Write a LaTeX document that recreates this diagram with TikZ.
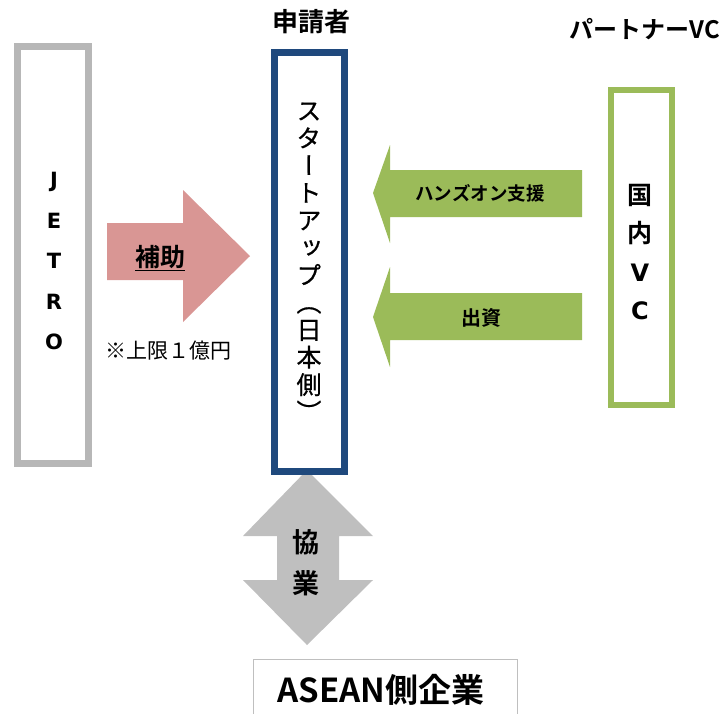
\documentclass[tikz,border=0pt]{standalone}
\usepackage{fontspec}
\setmainfont{Noto Sans CJK JP}
\newfontfamily\jp{Noto Sans CJK JP}
\newfontfamily\jpb{Noto Sans CJK JP Bold}
\newfontfamily\jpv[RawFeature={+vert},FakeBold=0.6]{Noto Sans CJK JP}
\newfontfamily\dv{DejaVu Sans}
\definecolor{jgray}{HTML}{B7B7B7}
\definecolor{sblue}{HTML}{1F497D}
\definecolor{vgreen}{HTML}{9BBB59}
\definecolor{apink}{HTML}{D99694}
\definecolor{agray}{HTML}{BFBFBF}
\tikzset{
  box/.style={line width=7pt},
  lbl/.style={inner sep=0pt, text=black},
}
\begin{document}
\begin{tikzpicture}[x=1pt,y=-1pt]
\useasboundingbox (0,0) rectangle (725,713);
% headers
\node[lbl, font=\jpb\fontsize{26}{30}\selectfont] (hdr1) at (311,22) {申請者};
\node[lbl, font=\jpb\fontsize{24}{28}\selectfont] (hdr2) at (645,29) {パートナーVC};
% gray double arrow (behind startup box)
\fill[agray] (307,470) -- (373,536) -- (339,536) -- (339,580) -- (373,580)
  -- (307,645) -- (243,580) -- (277,580) -- (277,536) -- (243,536) -- cycle;
\node[lbl, font=\jpb\fontsize{27}{30}\selectfont] (kyo) at (306,542) {協};
\node[lbl, font=\jpb\fontsize{27}{30}\selectfont] (gyo) at (306,583) {業};
% boxes
\draw[box, jgray] (17.5,46.5) rectangle (88.5,463.5);
\node[lbl, font=\dv\bfseries\fontsize{21}{40.5}\selectfont, align=center] (jetro) at (54,261) {J\\E\\T\\R\\O};
\draw[box, sblue] (274.5,52.5) rectangle (344.5,471.5);
\node[lbl, font=\jpv\fontsize{25}{27.4}\selectfont, align=center] (start) at (309,262)
  {ス\\タ\\ー\\ト\\ア\\ッ\\プ\\（\\日\\本\\側\\）};
\draw[line width=6pt, vgreen] (611,90) rectangle (672,405);
\node[lbl, font=\jpb\fontsize{25}{38.5}\selectfont, align=center] (vc) at (640,252)
  {国\\内\\{\dv\bfseries\fontsize{24}{38.5}\selectfont V}\\{\dv\bfseries\fontsize{24}{38.5}\selectfont C}};
% pink arrow
\fill[apink] (107,223) -- (183,223) -- (183,190) -- (250,256) -- (183,322) -- (183,280) -- (107,280) -- cycle;
\node[lbl, font=\jpb\fontsize{25}{28}\selectfont] (hojo) at (160,258) {\underline{補助}};
\node[lbl, font=\jp\fontsize{21}{24}\selectfont] (limit) at (168,351) {※上限１億円};
% green arrows
\fill[vgreen] (582,170) -- (390,170) -- (390,145) -- (373,193) -- (390,243) -- (390,217) -- (582,217) -- cycle;
\node[lbl, font=\jpb\fontsize{18.5}{22}\selectfont] (hands) at (480,193) {ハンズオン支援};
\fill[vgreen] (582,293) -- (390,293) -- (390,267) -- (373,317) -- (390,367) -- (390,340) -- (582,340) -- cycle;
\node[lbl, font=\jpb\fontsize{20}{24}\selectfont] (shushi) at (481,318) {出資};
% ASEAN box
\draw[agray, line width=1.5pt] (253.5,714) -- (253.5,659.5) -- (517.5,659.5) -- (517.5,714);
\node[lbl, font=\jpb\fontsize{33}{36}\selectfont] (asean) at (381,690) {ASEAN側企業};
\end{tikzpicture}
\end{document}
